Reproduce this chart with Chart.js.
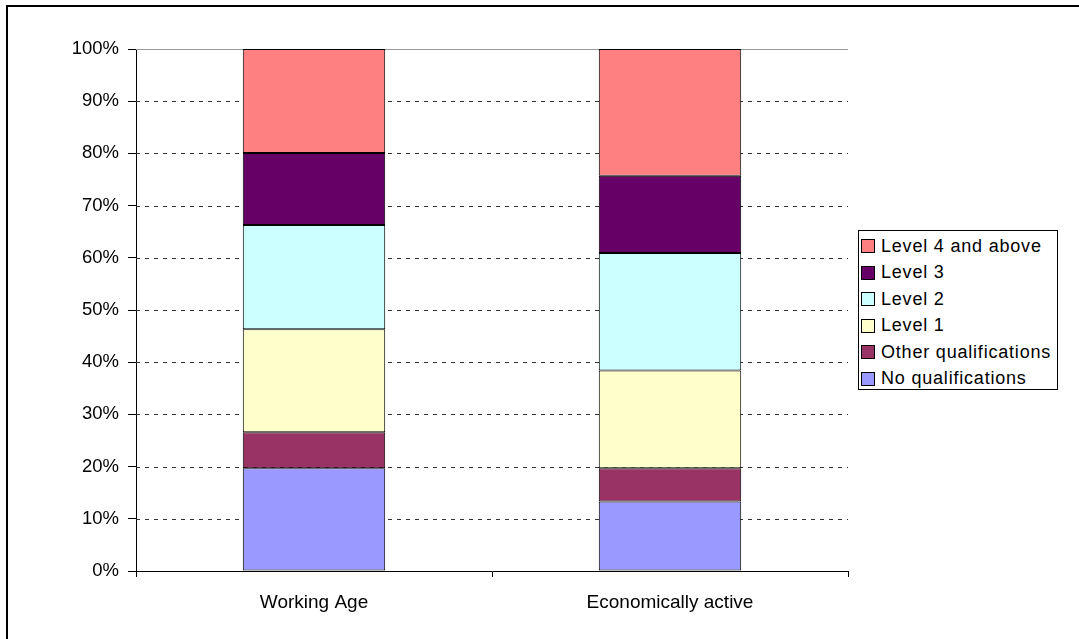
<!DOCTYPE html>
<html>
<head>
<meta charset="utf-8">
<script src="https://cdn.jsdelivr.net/npm/chart.js@4/dist/chart.umd.min.js"></script>
<style>
  html, body { margin: 0; padding: 0; background: #fff; }
  #wrap { position: relative; width: 1079px; height: 639px; overflow: hidden; font-family: "Liberation Sans", Arial, sans-serif; }
  #frame { position: absolute; left: 6px; top: 5px; width: 1200px; height: 800px; border: 2px solid #000; box-sizing: border-box; }
  #chart { position: absolute; left: 0; top: 0; }
  #legend { position: absolute; left: 858px; top: 230px; width: 200px; height: 160px; border: 1px solid #000; box-sizing: border-box; background: #fff; }
  .item { position: absolute; left: 2px; height: 20px; display: flex; align-items: center; font-size: 18px; letter-spacing: 0.8px; color: #000; white-space: nowrap; }
  .swatch { width: 12px; height: 12px; border: 1px solid #000; margin-right: 6px; flex: none; }
</style>
</head>
<body>
<div id="wrap">
  <div id="frame"></div>
  <canvas id="chart" width="1079" height="639"></canvas>
  <div id="legend"></div>
</div>
<script>
// Share of people by highest qualification (%), stacked to 100
const categories = ["Working Age", "Economically active"];
const seriesNames = ["No qualifications", "Other qualifications", "Level 1", "Level 2", "Level 3", "Level 4 and above"];
const noQualifications = [19.7, 13.3];
const otherQualifications = [6.9, 6.4];
const level1 = [19.7, 18.7];
const level2 = [20.0, 22.5];
const level3 = [13.8, 14.8];
const level4AndAbove = [19.9, 24.3];
const seriesColors = ["#9999FF", "#993366", "#FFFFCC", "#CCFFFF", "#660066", "#FF8080"];
const yTicks = [0, 10, 20, 30, 40, 50, 60, 70, 80, 90, 100];

const seriesValues = [noQualifications, otherQualifications, level1, level2, level3, level4AndAbove];

const FAMILY = '"Liberation Sans", Arial, sans-serif';

// Dashed horizontal gridlines behind the bars; the 100% line is solid grey
const gridPlugin = {
  id: 'excelGrid',
  beforeDatasetsDraw(chart) {
    const { ctx, chartArea, scales } = chart;
    const y = scales.y;
    ctx.save();
    yTicks.forEach(v => {
      if (v === 0) return;
      const py = Math.round(y.getPixelForValue(v)) + 0.5;
      ctx.beginPath();
      if (v === 100) {
        ctx.setLineDash([]);
        ctx.strokeStyle = '#9a9a9a';
      } else {
        ctx.setLineDash([4, 5]);
        ctx.strokeStyle = '#333';
      }
      ctx.lineWidth = 1;
      ctx.moveTo(chartArea.left, py);
      ctx.lineTo(chartArea.right, py);
      ctx.stroke();
    });
    ctx.restore();
  }
};

const chart = new Chart(document.getElementById('chart'), {
  type: 'bar',
  data: {
    labels: categories,
    datasets: seriesNames.map((name, i) => ({
      label: name,
      data: seriesValues[i],
      backgroundColor: seriesColors[i],
      borderColor: '#000',
      borderWidth: 1,
      borderSkipped: false,
      barPercentage: 1,
      categoryPercentage: 0.4
    }))
  },
  options: {
    responsive: false,
    animation: false,
    devicePixelRatio: 1,
    layout: { padding: { top: 49, right: 231, left: 0, bottom: 0 } },
    plugins: { legend: { display: false }, tooltip: { enabled: false } },
    scales: {
      x: {
        stacked: true,
        afterFit(scale) { scale.height = 68; },
        grid: { offset: true, drawOnChartArea: false, drawTicks: true, tickLength: 6, color: '#000', lineWidth: 1 },
        border: { display: true, color: '#000', width: 1 },
        ticks: { color: '#000', font: { family: FAMILY, size: 19 }, padding: 14, maxRotation: 0 }
      },
      y: {
        stacked: true,
        min: 0,
        max: 100,
        afterFit(scale) { scale.width = 136; },
        afterBuildTicks(scale) { scale.ticks = yTicks.map(v => ({ value: v })); },
        grid: { drawOnChartArea: false, drawTicks: true, tickLength: 8, color: '#000', lineWidth: 1 },
        border: { display: true, color: '#000', width: 1 },
        ticks: { color: '#000', font: { family: FAMILY, size: 18.5 }, padding: 9, callback: v => v + '%' }
      }
    }
  },
  plugins: [gridPlugin]
});

// Legend, listed top to bottom in the order the segments are stacked
const legend = document.getElementById('legend');
const itemTops = [5, 31.5, 58, 84.5, 111, 137.5];
seriesNames.slice().reverse().forEach((name, k) => {
  const i = seriesNames.length - 1 - k;
  const row = document.createElement('div');
  row.className = 'item';
  row.style.top = itemTops[k] + 'px';
  const sw = document.createElement('span');
  sw.className = 'swatch';
  sw.style.background = seriesColors[i];
  const tx = document.createElement('span');
  tx.textContent = name;
  row.appendChild(sw);
  row.appendChild(tx);
  legend.appendChild(row);
});
</script>
</body>
</html>
